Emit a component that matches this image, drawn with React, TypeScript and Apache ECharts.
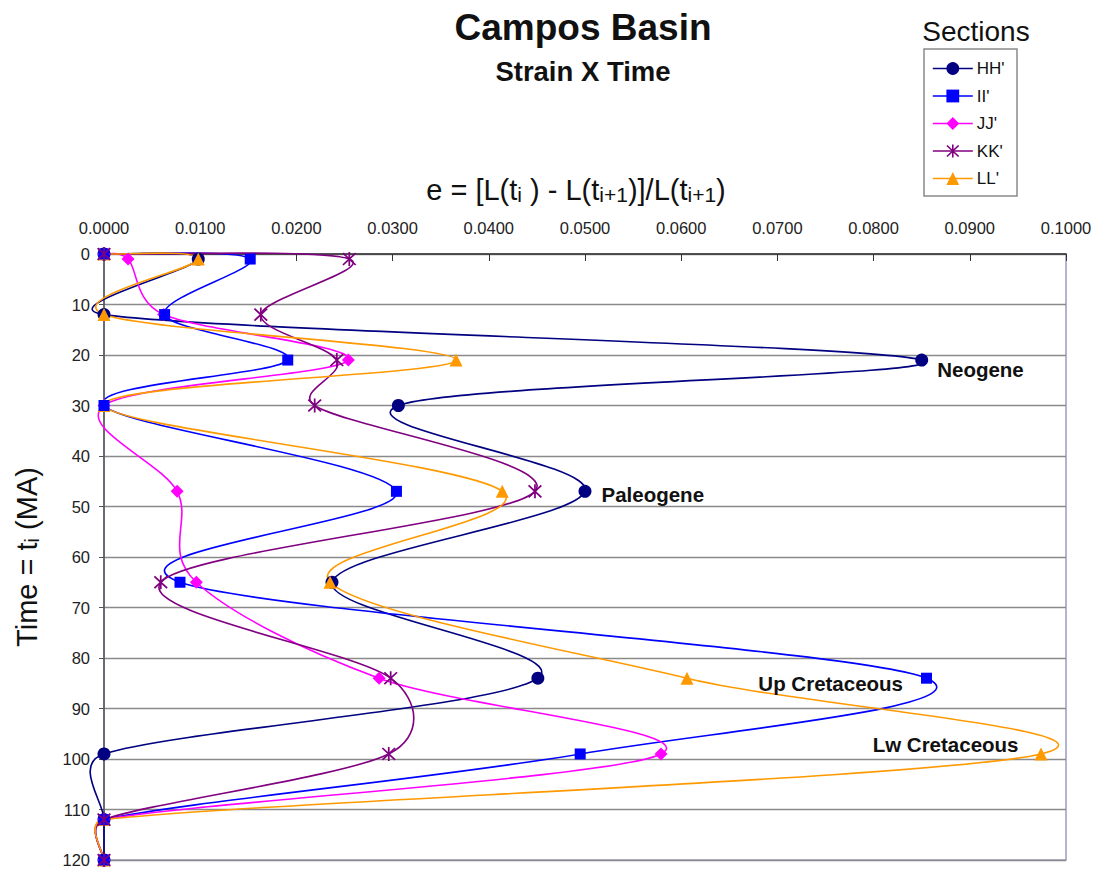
import React, { useEffect, useRef } from "react";
import * as echarts from "echarts";

// Time (MA) of each sample
const times = [0, 1, 12, 21, 30, 47, 65, 84, 99, 112, 120];
// Strain e for each section at those times
const hh = [0, 0.0098, 0, 0.085, 0.0306, 0.05, 0.0237, 0.0451, 0, 0, 0];
const ii = [0, 0.0152, 0.0063, 0.0191, 0, 0.0304, 0.0079, 0.0855, 0.0495, 0, 0];
const jj = [0, 0.0025, 0.0062, 0.0254, 0, 0.0076, 0.0096, 0.0286, 0.0579, 0, 0];
const kk = [0, 0.0255, 0.0163, 0.0242, 0.0219, 0.0448, 0.0059, 0.0298, 0.0296, 0, 0];
const ll = [0, 0.0098, 0, 0.0366, 0, 0.0414, 0.0235, 0.0606, 0.0974, 0, 0];

const sectionNames = ["HH'", "II'", "JJ'", "KK'", "LL'"];
const sectionValues = [hh, ii, jj, kk, ll];
const sectionColors = ["#000080", "#0000FF", "#FF00FF", "#800080", "#FF9900"];

// Era annotations: [section, time, text]
const eraSection = ["HH'", "HH'", "II'", "LL'"];
const eraTime = [21, 47, 84, 99];
const eraText = ["Neogene", "Paleogene", "Up Cretaceous", "Lw Cretaceous"];

const FONT = "'Liberation Sans', Arial, Helvetica, sans-serif";
const STAR =
  "path://M-0.7,-6L0.7,-6L0.7,6L-0.7,6Z M-4.6,-5.6L5.6,4.6L4.6,5.6L-5.6,-4.6Z M-5.6,4.6L4.6,-5.6L5.6,-4.6L-4.6,5.6Z";
const symbols = ["circle", "rect", "diamond", STAR, "triangle"];
const symbolSizes = [13, 11, 13, 14, 13];
const markerZ = [4, 7, 5, 8, 6];
const LINE_W = 1.6;

const eraLabelStyle: Record<string, any> = {
  Neogene: { position: "right", distance: 9, offset: [0, 9] },
  Paleogene: { position: "right", distance: 10, offset: [0, 3] },
  "Up Cretaceous": { position: "left", distance: 18, offset: [0, 5] },
  "Lw Cretaceous": { position: "left", distance: 16, offset: [0, -9] },
};

// Tangent at a point (Catmull-Rom, 1/6), with its length capped at half of the adjacent segment
function controlOffset(prev: number[], cur: number[], next: number[], seg: number) {
  const tx = (next[0] - prev[0]) / 6;
  const ty = (next[1] - prev[1]) / 6;
  const len = Math.hypot(tx, ty);
  const cap = seg / 2;
  const k = len > cap && len > 0 ? cap / len : 1;
  return [tx * k, ty * k];
}

export default function App() {
  const ref = useRef<HTMLDivElement>(null);
  useEffect(() => {
    if (!ref.current) return;
    const chart = echarts.init(ref.current, undefined, { renderer: "svg" });

    // Markers (line itself drawn by the smooth custom series below)
    const markerSeries = sectionNames.map((name, si) => ({
      name,
      type: "line",
      z: markerZ[si],
      clip: false,
      symbol: symbols[si],
      symbolSize: symbolSizes[si],
      showAllSymbol: true,
      lineStyle: { color: sectionColors[si], width: 0 },
      itemStyle: { color: sectionColors[si] },
      emphasis: { disabled: true },
      data: times.map((t, i) => {
        const item: any = { value: [sectionValues[si][i], t] };
        for (let k = 0; k < eraText.length; k++) {
          if (eraSection[k] === name && eraTime[k] === t) {
            item.label = {
              show: true,
              formatter: eraText[k],
              color: "#111",
              fontFamily: FONT,
              fontWeight: "bold",
              fontSize: 20.5,
              ...eraLabelStyle[eraText[k]],
            };
          }
        }
        return item;
      }),
    }));

    // Excel-style smoothed line: Bezier segments through the data points
    const curveSeries = sectionNames.map((name, si) => {
      const vals = sectionValues[si];
      const n = times.length;
      return {
        name: name + " curve",
        type: "custom",
        coordinateSystem: "cartesian2d",
        z: 3,
        silent: true,
        clip: false,
        encode: { x: 0, y: 1 },
        data: times.map((t, i) => [vals[i], t]),
        renderItem: (params: any, api: any) => {
          const i = params.dataIndex;
          if (i >= n - 1) return null;
          const P = (k: number) => {
            const c = Math.max(0, Math.min(n - 1, k));
            return api.coord([vals[c], times[c]]);
          };
          const p0 = P(i - 1);
          const p1 = P(i);
          const p2 = P(i + 1);
          const p3 = P(i + 2);
          const seg = Math.hypot(p2[0] - p1[0], p2[1] - p1[1]);
          const a = controlOffset(p0, p1, p2, seg);
          const b = controlOffset(p1, p2, p3, seg);
          return {
            type: "bezierCurve",
            shape: {
              x1: p1[0],
              y1: p1[1],
              x2: p2[0],
              y2: p2[1],
              cpx1: p1[0] + a[0],
              cpy1: p1[1] + a[1],
              cpx2: p2[0] - b[0],
              cpy2: p2[1] - b[1],
            },
            style: { stroke: sectionColors[si], lineWidth: LINE_W, fill: "none" },
          };
        },
      };
    });

    chart.setOption({
      animation: false,
      backgroundColor: "#ffffff",
      title: [
        {
          text: "Campos Basin",
          left: 578,
          top: 4,
          textAlign: "center",
          textStyle: { fontFamily: FONT, fontWeight: "bold", fontSize: 37, color: "#111" },
        },
        {
          text: "Strain X Time",
          left: 578,
          top: 52,
          textAlign: "center",
          textStyle: { fontFamily: FONT, fontWeight: "bold", fontSize: 27.5, color: "#111" },
        },
        {
          text: "Sections",
          left: 971,
          top: 12,
          textAlign: "center",
          textStyle: { fontFamily: FONT, fontWeight: "normal", fontSize: 28, color: "#111" },
        },
      ],
      legend: {
        orient: "vertical",
        left: 932,
        top: 60,
        itemWidth: 40,
        itemHeight: 16,
        itemGap: 10.5,
        padding: 0,
        lineStyle: { width: LINE_W },
        data: sectionNames.map((name, si) => ({
          name,
          lineStyle: { color: sectionColors[si], width: LINE_W, opacity: 1 },
        })),
        textStyle: { fontFamily: FONT, fontSize: 17, color: "#111", padding: [0, 0, 0, -1] },
        selectedMode: false,
      },
      grid: {
        left: 104,
        right: 33,
        top: 254,
        bottom: 14,
        show: true,
        borderColor: "#9c9cc4",
        borderWidth: 1.5,
        backgroundColor: "transparent",
      },
      xAxis: {
        type: "value",
        position: "top",
        min: 0,
        max: 0.1,
        interval: 0.01,
        name: "e = [L(t{s|i} ) - L(t{s|i+1})]/L(t{s|i+1})",
        nameLocation: "middle",
        nameGap: 79,
        nameTextStyle: {
          fontFamily: FONT,
          fontSize: 29,
          color: "#111",
          verticalAlign: "top",
          lineHeight: 30,
          padding: [0, 18, 0, 0],
          rich: {
            s: { fontFamily: FONT, fontSize: 21, color: "#111", verticalAlign: "bottom", lineHeight: 10 },
          },
        },
        axisLine: { show: true, lineStyle: { color: "#333", width: 1.5 } },
        axisTick: { show: true, inside: true, length: 7, lineStyle: { color: "#333" } },
        axisLabel: {
          margin: 18,
          formatter: (v: number) => v.toFixed(4),
          fontFamily: FONT,
          fontSize: 16.5,
          color: "#222",
        },
        splitLine: { show: false },
      },
      yAxis: {
        type: "value",
        inverse: true,
        min: 0,
        max: 120,
        interval: 10,
        name: "Time = t{s|i} (MA)",
        nameLocation: "middle",
        nameGap: 92,
        nameTextStyle: {
          fontFamily: FONT,
          fontSize: 29,
          color: "#111",
          verticalAlign: "top",
          lineHeight: 30,
          rich: {
            s: { fontFamily: FONT, fontSize: 20, color: "#111", verticalAlign: "bottom", lineHeight: 9 },
          },
        },
        axisLine: { show: true, lineStyle: { color: "#555", width: 1.5 } },
        axisTick: { show: true, length: 5, lineStyle: { color: "#555" } },
        axisLabel: { margin: 14, fontFamily: FONT, fontSize: 16.5, color: "#222" },
        splitLine: { show: true, lineStyle: { color: "#8a8a8a", width: 1.4 } },
      },
      graphic: [
        {
          type: "rect",
          shape: { x: 924, y: 49, width: 93, height: 147 },
          style: { fill: "none", stroke: "#8a8a8a", lineWidth: 1.5 },
          z: 1,
        },
      ],
      series: [...curveSeries, ...markerSeries],
    });
    return () => chart.dispose();
  }, []);
  return (
    <div
      ref={ref}
      style={{ position: "fixed", left: 0, top: 0, width: 1099, height: 874, background: "#fff" }}
    />
  );
}
